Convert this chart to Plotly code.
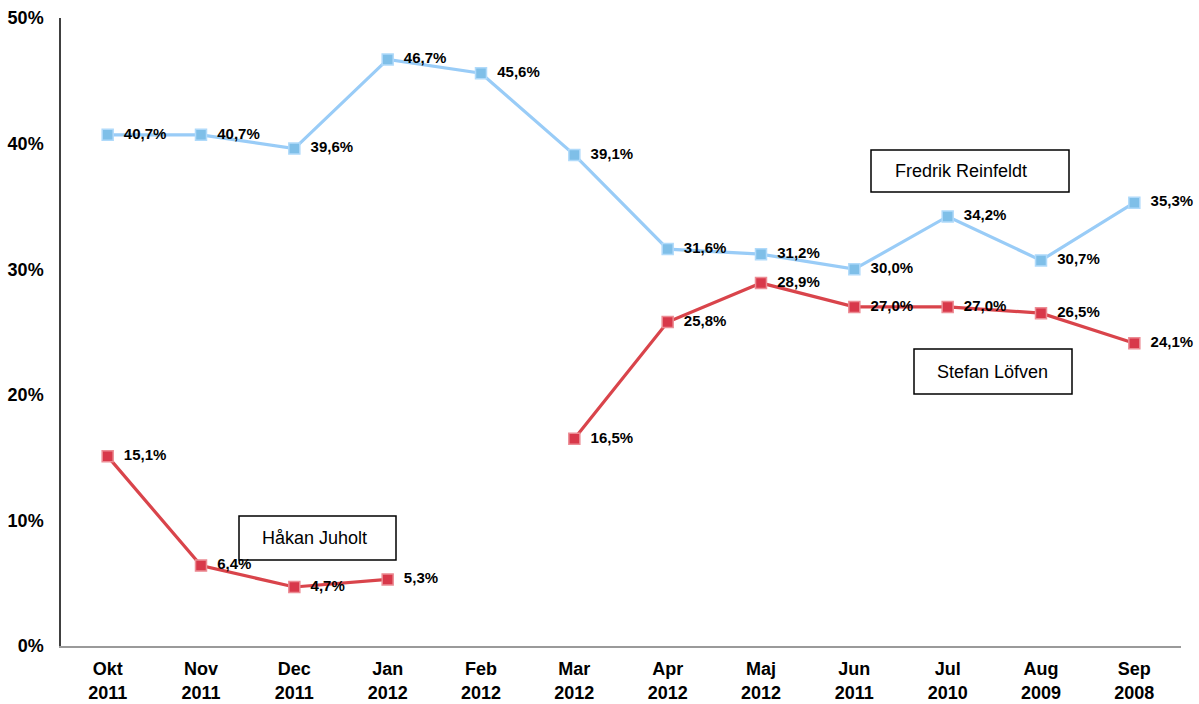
import plotly.graph_objects as go

categories = ["Okt<br>2011", "Nov<br>2011", "Dec<br>2011", "Jan<br>2012", "Feb<br>2012", "Mar<br>2012",
              "Apr<br>2012", "Maj<br>2012", "Jun<br>2011", "Jul<br>2010", "Aug<br>2009", "Sep<br>2008"]
reinfeldt = [40.7, 40.7, 39.6, 46.7, 45.6, 39.1, 31.6, 31.2, 30.0, 34.2, 30.7, 35.3]
juholt = [15.1, 6.4, 4.7, 5.3, None, None, None, None, None, None, None, None]
lofven = [None, None, None, None, None, 16.5, 25.8, 28.9, 27.0, 27.0, 26.5, 24.1]
y_ticks = [0, 10, 20, 30, 40, 50]
y_tick_labels = ["0%", "10%", "20%", "30%", "40%", "50%"]

def fmt(v):
    return "" if v is None else "\u00a0\u00a0" + ("%.1f%%" % v).replace(".", ",")

BLUE = "#99ccf7"
RED = "#d9444b"
FONT = "Liberation Sans, Arial"

fig = go.Figure()
for vals, col, mcol, mline, name in [(reinfeldt, BLUE, "#7fbfe8", "#b0dafa", "Fredrik Reinfeldt"),
                                     (juholt, RED, "#d8384a", "#ec8c94", "Håkan Juholt"),
                                     (lofven, RED, "#d8384a", "#ec8c94", "Stefan Löfven")]:
    fig.add_trace(go.Scatter(
        x=categories, y=vals, mode="lines+markers+text", name=name,
        line=dict(color=col, width=3.2),
        marker=dict(symbol="square", size=11, color=mcol, line=dict(color=mline, width=1.5)),
        text=[fmt(v) for v in vals], textposition="middle right",
        textfont=dict(family=FONT, size=15, color="black", weight="bold"),
        cliponaxis=False, connectgaps=False,
    ))

L, R, T, B = 61, 18, 18, 58
W, H = 1199, 704
pw, ph = W - L - R, H - T - B

def px(x):
    return (x - L) / pw

def py(y):
    return (H - B - y) / ph

boxes = [("Fredrik Reinfeldt", 871, 1069, 150, 192, 893),
         ("Stefan Löfven", 914, 1072, 349, 394, 935),
         ("Håkan Juholt", 239, 396, 516, 560, 260)]
shapes = []
annotations = []
for txt, x0, x1, y0, y1, tx in boxes:
    shapes.append(dict(type="rect", xref="paper", yref="paper", x0=px(x0), x1=px(x1),
                       y0=py(y1), y1=py(y0), line=dict(color="black", width=1.5),
                       fillcolor="white", layer="below"))
    annotations.append(dict(text=txt, xref="paper", yref="paper", x=px(tx), y=py((y0 + y1) / 2),
                            xanchor="left", yanchor="middle", showarrow=False,
                            font=dict(family=FONT, size=18, color="black")))

fig.update_layout(
    width=W, height=H, margin=dict(l=L, r=R, t=T, b=B),
    plot_bgcolor="white", paper_bgcolor="white", showlegend=False,
    shapes=shapes, annotations=annotations,
    xaxis=dict(range=[-0.5, 11.5], showgrid=False, showline=True, linecolor="#9a9a9a", linewidth=1.5,
               ticks="", automargin=False, ticklabelstandoff=6,
               tickfont=dict(family=FONT, size=18, color="black", weight="bold")),
    yaxis=dict(range=[0, 50], tickvals=y_ticks, ticktext=y_tick_labels, showgrid=False, zeroline=False,
               showline=True, linecolor="#404040", linewidth=1.5, ticks="", ticklabelstandoff=12,
               automargin=False,
               tickfont=dict(family=FONT, size=18, color="black", weight="bold")),
)
fig.write_html("out.html", config={"displayModeBar": False},
               post_script="document.body.style.margin='0';")
